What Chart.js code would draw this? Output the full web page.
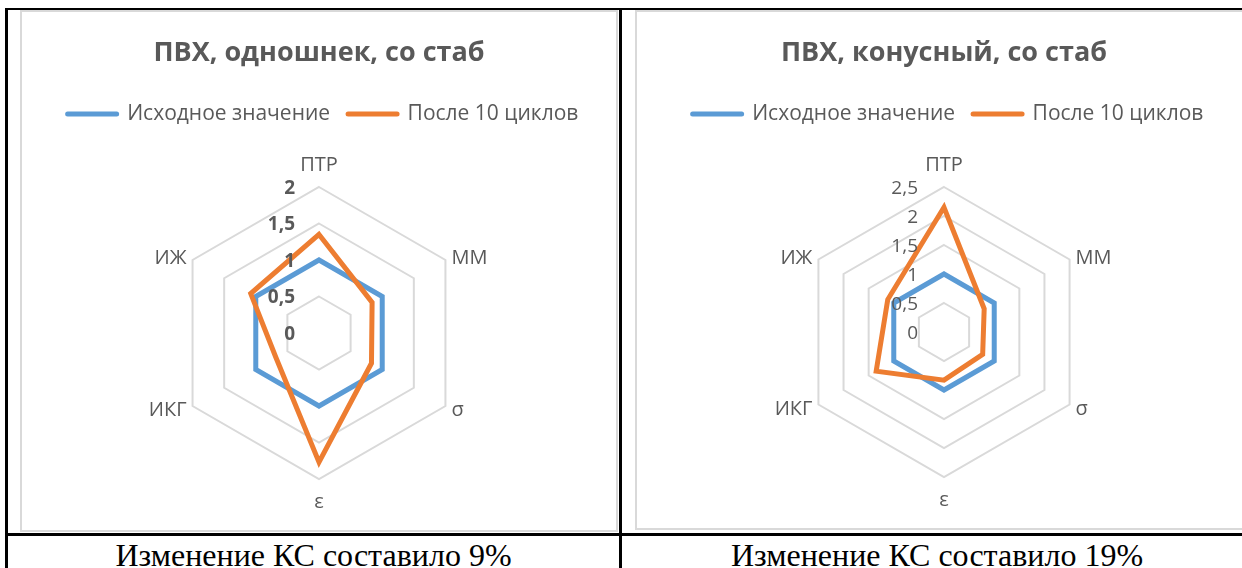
<!DOCTYPE html>
<html lang="ru">
<head>
<meta charset="utf-8">
<title>ПВХ — радарные диаграммы</title>
<script src="https://cdn.jsdelivr.net/npm/chart.js@4.4.1/dist/chart.umd.min.js"></script>
<style>
  html, body { margin: 0; padding: 0; background: #fff; }
  body { position: relative; width: 1242px; height: 568px; overflow: hidden; }
  .rule { position: absolute; background: #000; }
  .frame { position: absolute; box-sizing: border-box; border: 2px solid #d9d9d9; background: #fff; }
  canvas { position: absolute; }
  .caption {
    position: absolute; top: 539px; height: 32px;
    font-family: "Liberation Serif", "Times New Roman", serif;
    font-size: 32px; line-height: 32px; color: #000;
    text-align: center; white-space: nowrap;
  }
</style>
</head>
<body>
<!-- table grid -->
<div class="rule" style="left:5px; top:8px; width:1237px; height:2px"></div>
<div class="rule" style="left:5px; top:8px; width:3px; height:560px"></div>
<div class="rule" style="left:619px; top:8px; width:3px; height:560px"></div>
<div class="rule" style="left:5px; top:533px; width:1237px; height:3px"></div>

<!-- chart frames -->
<div class="frame" style="left:20px; top:10px; width:598px; height:522px"></div>
<div class="frame" style="left:635px; top:10px; width:620px; height:520px"></div>

<canvas id="chartLeft" width="594" height="518" style="left:22px; top:12px"></canvas>
<canvas id="chartRight" width="614" height="516" style="left:637px; top:12px"></canvas>

<div class="caption" style="left:8px; width:611px">Изменение КС составило 9%</div>
<div class="caption" style="left:622px; width:630px">Изменение КС составило 19%</div>

<script>
// Axes of both radar charts
const categories = ['ПТР', 'ММ', 'σ', 'ε', 'ИКГ', 'ИЖ'];
const seriesNames = ['Исходное значение', 'После 10 циклов'];

// ПВХ, одношнек, со стаб
const leftTitle = 'ПВХ, одношнек, со стаб';
const leftInitial = [1, 1, 1, 1, 1, 1];
const leftAfter = [1.35, 0.84, 0.83, 1.77, 0.68, 1.08];
const leftTicks = [0, 0.5, 1, 1.5, 2];
const leftTickLabels = ['0', '0,5', '1', '1,5', '2'];

// ПВХ, конусный, со стаб
const rightTitle = 'ПВХ, конусный, со стаб';
const rightInitial = [1, 1, 1, 1, 1, 1];
const rightAfter = [2.15, 0.8, 0.77, 0.83, 1.35, 1.12];
const rightTicks = [0, 0.5, 1, 1.5, 2, 2.5];
const rightTickLabels = ['0', '0,5', '1', '1,5', '2', '2,5'];

const BLUE = '#5b9bd5';
const ORANGE = '#ed7d31';
const TEXT = '#595959';
const FONT = '"Open Sans", "Noto Sans", sans-serif';

Chart.defaults.font.family = FONT;
Chart.defaults.color = TEXT;

// Value labels beside the vertical axis and the category names round the web
const radarText = {
  id: 'radarText',
  afterLayout(chart, args, opts) {
    // nudge the legend row a little to the right of the web's axis
    chart.legend.left += opts.legendShift;
    chart.legend.right += opts.legendShift;
  },
  afterDatasetsDraw(chart, args, opts) {
    const s = chart.scales.r;
    const ctx = chart.ctx;
    ctx.save();
    ctx.fillStyle = TEXT;
    ctx.textBaseline = 'middle';

    ctx.font = `${opts.tickWeight} ${opts.tickSize}px ${FONT}`;
    ctx.textAlign = 'right';
    opts.ticks.forEach((v, i) => {
      const y = s.yCenter - s.getDistanceFromCenterForValue(v);
      ctx.fillText(opts.tickLabels[i], s.xCenter - opts.tickGap, y + 1.5);
    });

    ctx.font = `normal ${opts.labelSize}px ${FONT}`;
    chart.data.labels.forEach((label, i) => {
      const p = s.getPointPosition(i, s.drawingArea);
      const dx = p.x - s.xCenter;
      const dy = p.y - s.yCenter;
      let x = p.x, y = p.y + 1.5;
      if (Math.abs(dx) < 1) {
        ctx.textAlign = 'center';
        y += dy < 0 ? -23 : 22;
      } else {
        ctx.textAlign = dx > 0 ? 'left' : 'right';
        x += dx > 0 ? 6 : -6;
        y += dy < 0 ? -3 : 3;
      }
      ctx.fillText(label, x, y);
    });
    ctx.restore();
  }
};

function legendItems(chart) {
  return chart.data.datasets.map((ds, i) => ({
    text: ds.label,
    fillStyle: ds.borderColor,
    strokeStyle: ds.borderColor,
    fontColor: TEXT,
    lineWidth: 5,
    lineCap: 'round',
    pointStyle: 'line',
    hidden: !chart.isDatasetVisible(i),
    datasetIndex: i
  }));
}

function makeRadar(id, title, initial, after, ticks, tickLabels, cfg) {
  const dataset = (label, data, color, order) => ({
    label, data,
    borderColor: color,
    backgroundColor: color,
    borderWidth: 5,
    borderJoinStyle: 'miter',
    fill: false,
    tension: 0,
    pointRadius: 0,
    pointHoverRadius: 0,
    pointStyle: 'line',
    order
  });

  return new Chart(document.getElementById(id), {
    type: 'radar',
    data: {
      labels: categories,
      datasets: [
        dataset(seriesNames[0], initial, BLUE, 1),
        dataset(seriesNames[1], after, ORANGE, 0)
      ]
    },
    options: {
      responsive: false,
      animation: false,
      devicePixelRatio: 1,
      layout: { padding: { left: 0, right: 0, top: 0, bottom: cfg.bottom } },
      plugins: {
        title: {
          display: true,
          text: title,
          color: TEXT,
          font: { size: 27, weight: 'bold', lineHeight: 1.2 },
          padding: { top: 24.8, bottom: 16.3 }
        },
        legend: {
          display: true,
          position: 'top',
          labels: {
            usePointStyle: true,
            pointStyleWidth: 49,
            padding: 18,
            color: TEXT,
            font: { size: 21 },
            generateLabels: legendItems
          }
        },
        subtitle: {
          // empty band between legend and the web
          display: true,
          text: '',
          weight: 100,
          font: { size: 10, lineHeight: 1 },
          padding: { top: 42.5, bottom: 0 }
        },
        tooltip: { enabled: false },
        radarText: {
          ticks, tickLabels,
          tickWeight: cfg.tickWeight,
          tickSize: 19,
          tickGap: cfg.tickGap,
          labelSize: 20,
          legendShift: 4
        }
      },
      scales: {
        r: {
          min: ticks[0],
          max: ticks[ticks.length - 1],
          ticks: { display: false, stepSize: ticks[1] - ticks[0] },
          pointLabels: { display: false },
          angleLines: { display: false },
          grid: { color: '#d9d9d9', lineWidth: 2 }
        }
      }
    },
    plugins: [radarText]
  });
}

makeRadar('chartLeft', leftTitle, leftInitial, leftAfter, leftTicks, leftTickLabels,
  { bottom: 50, tickWeight: 'bold', tickGap: 24 });
makeRadar('chartRight', rightTitle, rightInitial, rightAfter, rightTicks, rightTickLabels,
  { bottom: 51, tickWeight: 'normal', tickGap: 26 });
</script>
</body>
</html>
